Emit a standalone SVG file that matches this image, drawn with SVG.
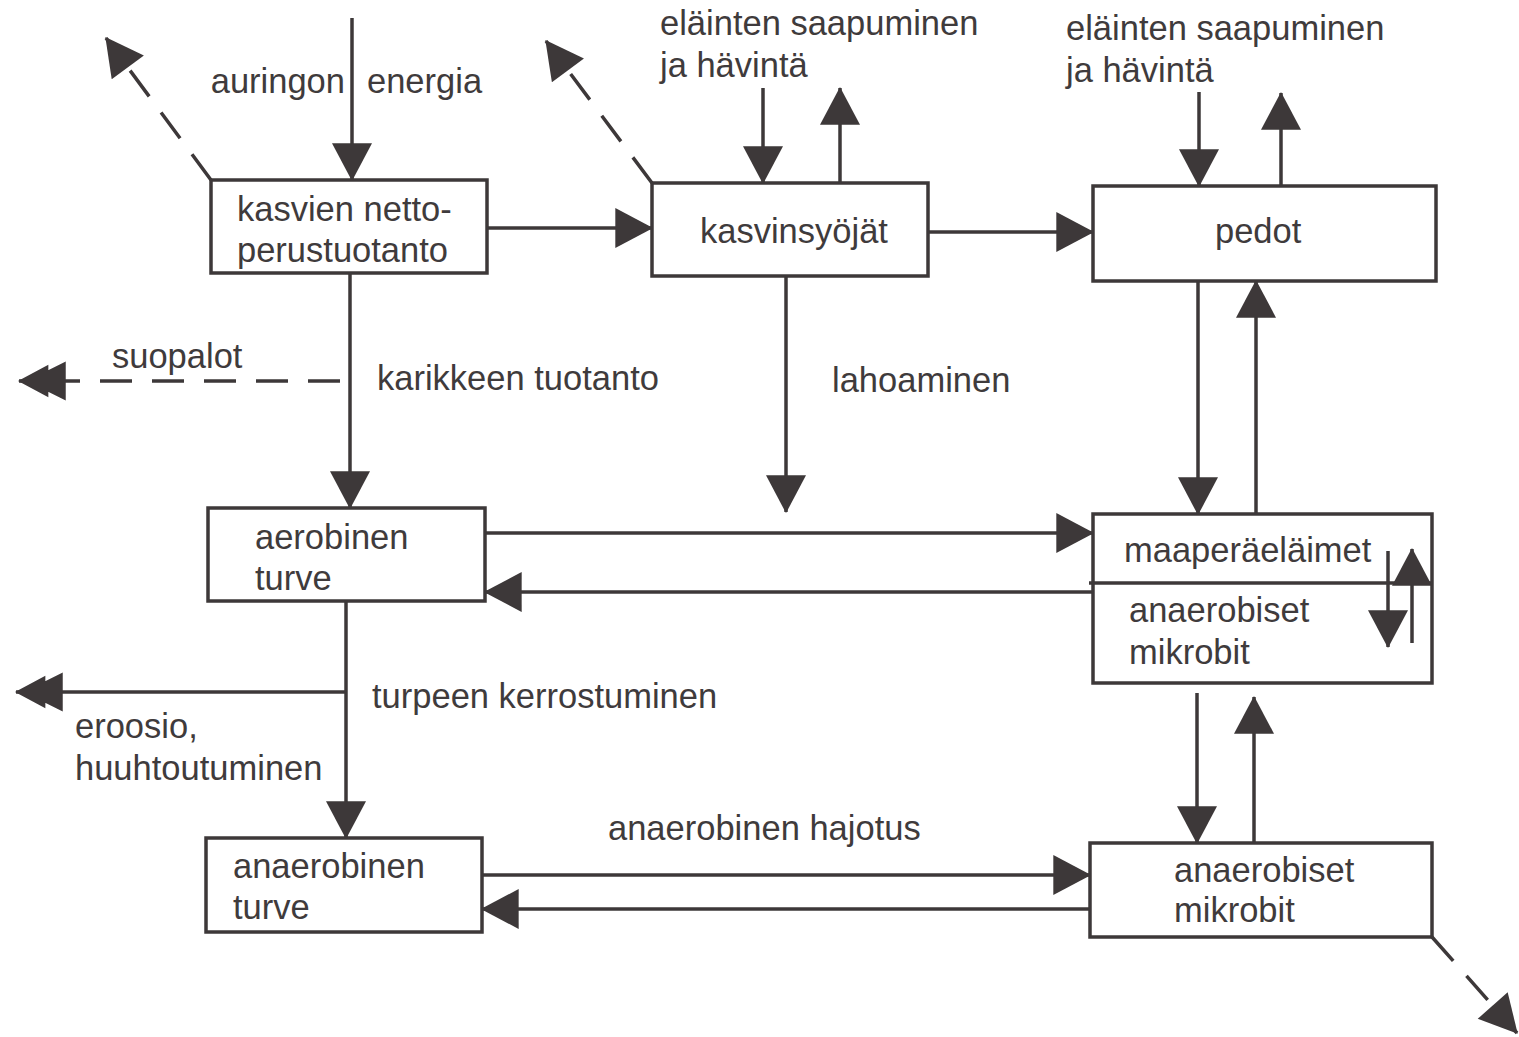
<svg xmlns="http://www.w3.org/2000/svg" width="1519" height="1037" viewBox="0 0 1519 1037">
<style>
.box{fill:#fff;stroke:#3d3839;stroke-width:3.5}
.ln{fill:none;stroke:#3d3839;stroke-width:3.5}
.dash{stroke-dasharray:32 20}
text{font-family:"Liberation Sans",Arial,sans-serif;font-size:34.5px;fill:#3f3b3c}
</style>
<defs>
<marker id="ah" markerUnits="userSpaceOnUse" markerWidth="40" markerHeight="40" viewBox="0 0 34 36" refX="33" refY="18" orient="auto">
<path d="M0,0 L34,18 L0,36 Z" fill="#3d3839"/>
</marker>
<marker id="ah2" markerUnits="userSpaceOnUse" markerWidth="50" markerHeight="40" viewBox="0 0 46 36" refX="45" refY="18" orient="auto">
<path d="M46,18 L18,3 L18,33 Z M38,18 L2,0 L2,36 Z" fill="#3d3839"/>
</marker>
</defs>
<rect width="1519" height="1037" fill="#fff"/>
<g id="connectors">
<line class="ln" x1="352" y1="18" x2="352" y2="180" marker-end="url(#ah)"/>
<line class="ln dash" x1="211" y1="180" x2="106" y2="38" marker-end="url(#ah)"/>
<line class="ln" x1="487" y1="228" x2="652" y2="228" marker-end="url(#ah)"/>
<line class="ln dash" x1="652" y1="183" x2="546" y2="41" marker-end="url(#ah)"/>
<line class="ln" x1="763" y1="88" x2="763" y2="183" marker-end="url(#ah)"/>
<line class="ln" x1="840" y1="183" x2="840" y2="88" marker-end="url(#ah)"/>
<line class="ln" x1="928" y1="232" x2="1093" y2="232" marker-end="url(#ah)"/>
<line class="ln" x1="1199" y1="92" x2="1199" y2="186" marker-end="url(#ah)"/>
<line class="ln" x1="1281" y1="186" x2="1281" y2="93" marker-end="url(#ah)"/>
<line class="ln" x1="350" y1="273" x2="350" y2="508" marker-end="url(#ah)"/>
<line class="ln dash" x1="340" y1="381" x2="19" y2="381" marker-end="url(#ah2)"/>
<line class="ln" x1="786" y1="276" x2="786" y2="512" marker-end="url(#ah)"/>
<line class="ln" x1="1198" y1="281" x2="1198" y2="514" marker-end="url(#ah)"/>
<line class="ln" x1="1256" y1="514" x2="1256" y2="281" marker-end="url(#ah)"/>
<line class="ln" x1="485" y1="533" x2="1093" y2="533" marker-end="url(#ah)"/>
<line class="ln" x1="1093" y1="592" x2="485" y2="592" marker-end="url(#ah)"/>
<line class="ln" x1="346" y1="601" x2="346" y2="838" marker-end="url(#ah)"/>
<line class="ln" x1="346" y1="692" x2="16" y2="692" marker-end="url(#ah2)"/>
<line class="ln" x1="1197" y1="693" x2="1197" y2="843" marker-end="url(#ah)"/>
<line class="ln" x1="1254" y1="843" x2="1254" y2="697" marker-end="url(#ah)"/>
<line class="ln" x1="482" y1="875" x2="1090" y2="875" marker-end="url(#ah)"/>
<line class="ln" x1="1090" y1="909" x2="482" y2="909" marker-end="url(#ah)"/>
<line class="ln dash" x1="1432" y1="937" x2="1517" y2="1033" marker-end="url(#ah)"/>
</g>
<g id="labels">
<text x="345" y="93" text-anchor="end">auringon</text>
<text x="367" y="93">energia</text>
<text x="660" y="35">eläinten saapuminen</text>
<text x="660" y="77">ja hävintä</text>
<text x="1066" y="40">eläinten saapuminen</text>
<text x="1066" y="82">ja hävintä</text>
<text x="112" y="368">suopalot</text>
<text x="377" y="390">karikkeen tuotanto</text>
<text x="832" y="392">lahoaminen</text>
<text x="372" y="708">turpeen kerrostuminen</text>
<text x="75" y="738">eroosio,</text>
<text x="75" y="780">huuhtoutuminen</text>
<text x="608" y="840">anaerobinen hajotus</text>
</g>
<g id="node-kasvien">
<rect class="box" x="211" y="180" width="276" height="93"/>
<text x="237" y="221">kasvien netto-</text>
<text x="237" y="262">perustuotanto</text>
</g>
<g id="node-kasvinsyojat">
<rect class="box" x="652" y="183" width="276" height="93"/>
<text x="700" y="243">kasvinsyöjät</text>
</g>
<g id="node-pedot">
<rect class="box" x="1093" y="186" width="343" height="95"/>
<text x="1215" y="243">pedot</text>
</g>
<g id="node-aerobinen">
<rect class="box" x="208" y="508" width="277" height="93"/>
<text x="255" y="549">aerobinen</text>
<text x="255" y="590">turve</text>
</g>
<g id="node-maapera">
<rect class="box" x="1093" y="514" width="339" height="169"/>
<line class="ln" x1="1089" y1="583" x2="1432" y2="583"/>
<text x="1124" y="562">maaperäeläimet</text>
<text x="1129" y="622">anaerobiset</text>
<text x="1129" y="664">mikrobit</text>
<line class="ln" x1="1388" y1="551" x2="1388" y2="647" marker-end="url(#ah)"/>
<line class="ln" x1="1412" y1="643" x2="1412" y2="549" marker-end="url(#ah)"/>
</g>
<g id="node-anaerobinen">
<rect class="box" x="206" y="838" width="276" height="94"/>
<text x="233" y="878">anaerobinen</text>
<text x="233" y="919">turve</text>
</g>
<g id="node-mikrobit">
<rect class="box" x="1090" y="843" width="342" height="94"/>
<text x="1174" y="882">anaerobiset</text>
<text x="1174" y="922">mikrobit</text>
</g>
</svg>
